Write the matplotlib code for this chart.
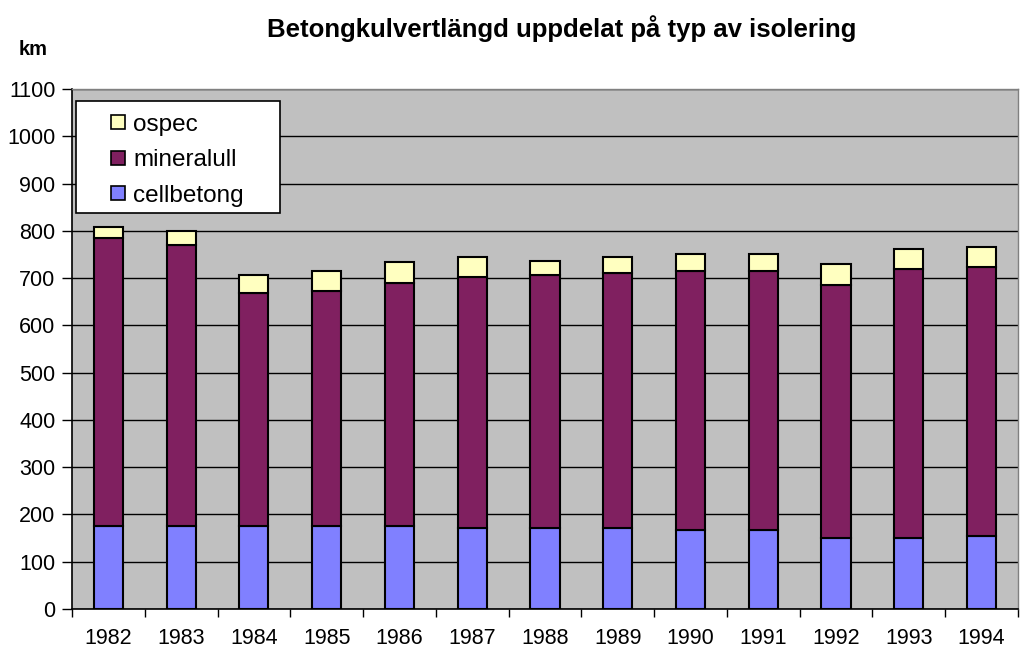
import numpy as np
import matplotlib
matplotlib.use("Agg")
import matplotlib.pyplot as plt
from matplotlib.patches import Rectangle

plt.rcParams['font.family'] = ['Liberation Sans', 'DejaVu Sans']

years = ["1982", "1983", "1984", "1985", "1986", "1987", "1988",
         "1989", "1990", "1991", "1992", "1993", "1994"]
cellbetong = [176, 176, 176, 176, 176, 172, 171, 171, 167, 167, 150, 150, 154]
mineralull = [608, 595, 492, 497, 513, 530, 535, 540, 549, 549, 535, 569, 569]
ospec = [25, 28, 39, 42, 44, 43, 30, 34, 34, 34, 44, 43, 43]
series_names = ["ospec", "mineralull", "cellbetong"]

c_cell = "#8080FF"
c_min = "#802060"
c_osp = "#FFFFC0"

fig = plt.figure(figsize=(10.23, 6.54), dpi=100)
ax = fig.add_axes([0.0704, 0.0688, 0.9246, 0.7951])
ax.set_facecolor("#C0C0C0")

x = np.arange(len(years))
w = 0.40
cell = np.array(cellbetong)
mine = np.array(mineralull)
osp = np.array(ospec)

ax.bar(x, cell, w, color=c_cell, edgecolor="black", linewidth=1.5, zorder=3)
ax.bar(x, mine, w, bottom=cell, color=c_min, edgecolor="black", linewidth=1.5, zorder=3)
ax.bar(x, osp, w, bottom=cell + mine, color=c_osp, edgecolor="black", linewidth=1.5, zorder=3)

ax.set_xlim(-0.5, len(years) - 0.5)
ax.set_ylim(0, 1100)
ax.set_yticks(np.arange(0, 1101, 100))
ax.yaxis.grid(True, color="black", linewidth=1.0, zorder=0)
ax.set_axisbelow(True)

ax.set_xticks(x)
ax.set_xticklabels(years, fontsize=15.5)
ax.set_xticks(np.arange(-0.5, len(years), 1.0), minor=True)
ax.tick_params(axis="x", which="major", length=0, pad=14)
ax.tick_params(axis="x", which="minor", length=6, width=1, direction="out")
ax.tick_params(axis="y", length=7, width=1, direction="out", labelsize=15.5, pad=5)

for s in ["left", "bottom"]:
    ax.spines[s].set_color("black")
    ax.spines[s].set_linewidth(1.2)
for s in ["top", "right"]:
    ax.spines[s].set_color("#808080")
    ax.spines[s].set_linewidth(1.0)

# legend box drawn by hand (Excel style, wide padding)
tr = ax.transAxes
ax.add_patch(Rectangle((0.0042, 0.7615), 0.2157, 0.2155, transform=tr,
                       facecolor="white", edgecolor="black", linewidth=1.2,
                       zorder=5, clip_on=False))
row_y = [0.9365, 0.8682, 0.8000]
sq_w, sq_h = 0.0148, 0.0269
for name, col, yy in zip(series_names, [c_osp, c_min, c_cell], row_y):
    ax.add_patch(Rectangle((0.0412, yy - sq_h / 2), sq_w, sq_h, transform=tr,
                           facecolor=col, edgecolor="black", linewidth=1.2,
                           zorder=6, clip_on=False))
    ax.text(0.0645, yy, name, transform=tr, ha="left", va="center_baseline",
            fontsize=17.5, zorder=7)

fig.text(0.549, 0.957, "Betongkulvertlängd uppdelat på typ av isolering",
         ha="center", va="center", fontsize=18.5, fontweight="bold")
fig.text(0.032, 0.925, "km", ha="center", va="center", fontsize=14.5, fontweight="bold")

fig.savefig("out.png", dpi=100)
